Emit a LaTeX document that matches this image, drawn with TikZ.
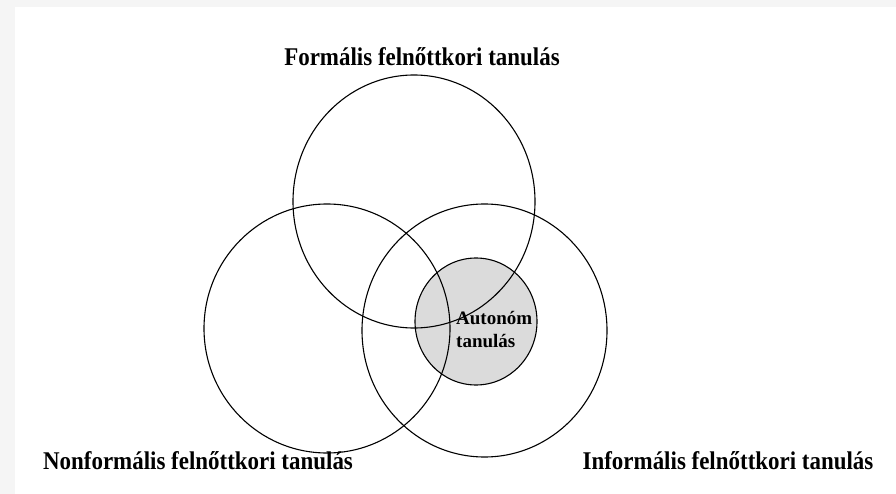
\documentclass[tikz,border=0pt]{standalone}
\usepackage{fontspec}
\setmainfont{Liberation Serif}
\newfontfamily\narrowserif[FakeStretch=0.9]{Liberation Serif}
\usetikzlibrary{shapes.geometric}
\tikzstyle{learning}=[ellipse,draw=black!100,line width=1.1pt,inner sep=0pt,outer sep=0pt]
\tikzstyle{autonomous}=[learning,fill=black!14]
\tikzstyle{caption}=[anchor=base,inner sep=0pt,font=\fontsize{25.5}{30}\narrowserif\bfseries]

\begin{document}
\begin{tikzpicture}[x=1pt,y=-1pt]
                    \useasboundingbox (0,0) rectangle (896,494);
                    \fill [black!4] (0,0) rectangle (896,494);
                    \fill [white] (15,7) rectangle (896,494);

                    \node (auton) at (476,321.5) [autonomous,minimum width=122pt,minimum height=127pt] {};
                    \node (formal) at (414,201.5) [learning,minimum width=242pt,minimum height=253pt] {};
                    \node (nonformal) at (327,328.5) [learning,minimum width=246pt,minimum height=249pt] {};
                    \node (informal) at (484.5,330.5) [learning,minimum width=245pt,minimum height=253pt] {};

                    \node (formaltext) at (422,66) [caption] {Formális felnőttkori tanulás};
                    \node (nonformaltext) at (198,469) [caption] {Nonformális felnőttkori tanulás};
                    \node (informaltext) at (728,469) [caption] {Informális felnőttkori tanulás};
                    \node (autontext) at (456,311) [anchor=north west,inner sep=0pt,align=left,
                        font=\fontsize{19}{23}\selectfont\bfseries] {Autonóm\\tanulás};
                \end{tikzpicture}
\end{document}
